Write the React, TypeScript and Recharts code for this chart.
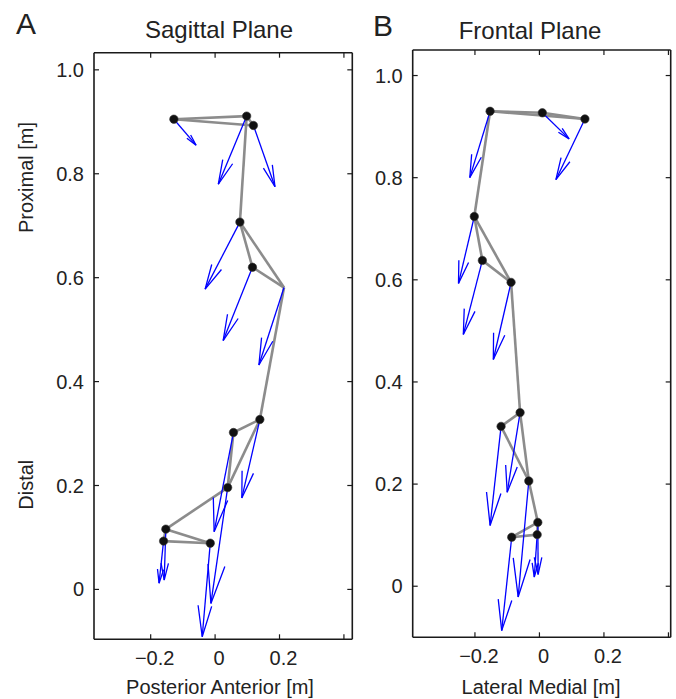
import React from 'react';
import { ScatterChart, Scatter, XAxis, YAxis, ReferenceLine } from 'recharts';

type Pt = { x: number; y: number };

const FONT = '"Liberation Sans", Arial, Helvetica, sans-serif';

// Panel A - sagittal plane: marker positions, force arrow tips, skeleton links
const sagittalJoints: Pt[] = [
  { x: -0.128, y: 0.905 },
  { x: 0.098, y: 0.911 },
  { x: 0.119, y: 0.893 },
  { x: 0.077, y: 0.707 },
  { x: 0.116, y: 0.62 },
  { x: 0.214, y: 0.581 },
  { x: 0.139, y: 0.327 },
  { x: 0.057, y: 0.302 },
  { x: 0.039, y: 0.196 },
  { x: -0.153, y: 0.116 },
  { x: -0.16, y: 0.093 },
  { x: -0.015, y: 0.089 },
];
const sagittalTips: Pt[] = [
  { x: -0.059, y: 0.855 },
  { x: 0.01, y: 0.78 },
  { x: 0.186, y: 0.775 },
  { x: -0.031, y: 0.578 },
  { x: 0.025, y: 0.479 },
  { x: 0.136, y: 0.432 },
  { x: 0.083, y: 0.176 },
  { x: -0.003, y: 0.111 },
  { x: -0.013, y: -0.027 },
  { x: -0.158, y: 0.018 },
  { x: -0.174, y: 0.012 },
  { x: -0.04, y: -0.091 },
];
const sagittalLinks: [number, number][] = [
  [0, 1], [0, 2], [1, 2], [1, 3], [3, 4], [3, 5], [4, 5], [5, 6],
  [6, 7], [6, 8], [7, 8], [8, 9], [9, 10], [9, 11], [10, 11],
];
const sagittalNoMarker = [5];

// Panel B - frontal plane
const frontalJoints: Pt[] = [
  { x: -0.153, y: 0.93 },
  { x: 0.009, y: 0.927 },
  { x: 0.141, y: 0.915 },
  { x: -0.202, y: 0.724 },
  { x: -0.177, y: 0.638 },
  { x: -0.088, y: 0.595 },
  { x: -0.06, y: 0.34 },
  { x: -0.119, y: 0.313 },
  { x: -0.033, y: 0.206 },
  { x: -0.005, y: 0.125 },
  { x: -0.007, y: 0.101 },
  { x: -0.086, y: 0.096 },
];
const frontalTips: Pt[] = [
  { x: -0.216, y: 0.8 },
  { x: 0.092, y: 0.876 },
  { x: 0.051, y: 0.796 },
  { x: -0.251, y: 0.593 },
  { x: -0.236, y: 0.493 },
  { x: -0.143, y: 0.444 },
  { x: -0.1, y: 0.184 },
  { x: -0.153, y: 0.119 },
  { x: -0.066, y: -0.021 },
  { x: -0.004, y: 0.023 },
  { x: -0.016, y: 0.018 },
  { x: -0.117, y: -0.087 },
];
const frontalLinks: [number, number][] = [
  [0, 1], [1, 2], [0, 2], [0, 3], [3, 4], [3, 5], [4, 5], [5, 6],
  [6, 7], [6, 8], [7, 8], [8, 9], [9, 10], [9, 11], [10, 11],
];
const frontalNoMarker: number[] = [];

const xTicks = [-0.2, 0, 0.2, 0.4];
const xTickLabels = ['\u22120.2', '0', '0.2', ''];
const yTicks = [0, 0.2, 0.4, 0.6, 0.8, 1.0];
const yTickLabels = ['0', '0.2', '0.4', '0.6', '0.8', '1.0'];

const sagittalXDomain: [number, number] = [-0.376, 0.426];
const sagittalYDomain: [number, number] = [-0.096, 1.033];
const frontalXDomain: [number, number] = [-0.393, 0.407];
const frontalYDomain: [number, number] = [-0.1, 1.05];

const AXIS = '#1a1a1a';
const TEXT = '#222';

const labelFor = (ticks: number[], labels: string[], v: number) => {
  const i = ticks.findIndex(t => Math.abs(t - v) < 1e-9);
  return i >= 0 ? labels[i] : '';
};

const ArrowShape = (props: any) => {
  const { x1, y1, x2, y2 } = props;
  const dx = x2 - x1;
  const dy = y2 - y1;
  const len = Math.hypot(dx, dy) || 1;
  const ux = dx / len;
  const uy = dy / len;
  const h = 0.33 * len;
  const w = 0.22 * h;
  const bx = x2 - ux * h;
  const by = y2 - uy * h;
  const pts = `${bx - uy * w},${by + ux * w} ${x2},${y2} ${bx + uy * w},${by - ux * w}`;
  return (
    <g>
      <line x1={x1} y1={y1} x2={x2} y2={y2} stroke="#0000ff" strokeWidth={1.3} />
      <polyline points={pts} fill="none" stroke="#0000ff" strokeWidth={1.3} />
    </g>
  );
};

const Dot = (props: any) => (
  <circle cx={props.cx} cy={props.cy} r={4.2} fill="#111" stroke="#333" strokeWidth={0.6} />
);

interface PanelProps {
  left: number;
  width: number;
  margin: { top: number; right: number; bottom: number; left: number };
  xDomain: [number, number];
  yDomain: [number, number];
  joints: Pt[];
  tips: Pt[];
  links: [number, number][];
  noMarker: number[];
}

const Panel: React.FC<PanelProps> = ({ left, width, margin, xDomain, yDomain, joints, tips, links, noMarker }) => {
  const markers = joints.filter((_, i) => !noMarker.includes(i));

  const leftTick = (p: any) => (
    <g>
      <line x1={p.x} y1={p.y} x2={p.x + 5} y2={p.y} stroke={AXIS} strokeWidth={1.2} />
      <text x={p.x - 10} y={p.y + 7} textAnchor="end" fontSize={20} fontFamily={FONT} fill={TEXT}>
        {labelFor(yTicks, yTickLabels, p.payload.value)}
      </text>
    </g>
  );
  const rightTick = (p: any) => (
    <line x1={p.x} y1={p.y} x2={p.x - 5} y2={p.y} stroke={AXIS} strokeWidth={1.2} />
  );
  const bottomTick = (p: any) => (
    <g>
      <line x1={p.x} y1={p.y} x2={p.x} y2={p.y - 5} stroke={AXIS} strokeWidth={1.2} />
      <text x={p.x + 4} y={p.y + 25.5} textAnchor="middle" fontSize={20} fontFamily={FONT} fill={TEXT}>
        {labelFor(xTicks, xTickLabels, p.payload.value)}
      </text>
    </g>
  );
  const topTick = (p: any) => (
    <line x1={p.x} y1={p.y} x2={p.x} y2={p.y + 5} stroke={AXIS} strokeWidth={1.2} />
  );

  const axisLine = { stroke: AXIS, strokeWidth: 1.6 };

  return (
    <div style={{ position: 'absolute', left, top: 0 }}>
      <ScatterChart width={width} height={699} margin={margin}>
        <XAxis type="number" dataKey="x" domain={xDomain} allowDataOverflow ticks={xTicks} interval={0}
          height={1} tickSize={0} tickMargin={0} tickLine={false} axisLine={axisLine} tick={bottomTick} />
        <XAxis xAxisId="top" orientation="top" type="number" dataKey="x" domain={xDomain} allowDataOverflow
          ticks={xTicks} interval={0} height={1} tickSize={0} tickMargin={0} tickLine={false} axisLine={axisLine} tick={topTick} />
        <YAxis type="number" dataKey="y" domain={yDomain} allowDataOverflow ticks={yTicks} interval={0}
          width={1} tickSize={0} tickMargin={0} tickLine={false} axisLine={axisLine} tick={leftTick} />
        <YAxis yAxisId="right" orientation="right" type="number" dataKey="y" domain={yDomain} allowDataOverflow
          ticks={yTicks} interval={0} width={1} tickSize={0} tickMargin={0} tickLine={false} axisLine={axisLine} tick={rightTick} />
        {links.map(([a, b], i) => (
          <ReferenceLine key={`l${i}`} ifOverflow="visible"
            segment={[{ x: joints[a].x, y: joints[a].y }, { x: joints[b].x, y: joints[b].y }]}
            stroke="#8c8c8c" strokeWidth={2.6} />
        ))}
        <Scatter data={markers} shape={Dot} isAnimationActive={false} />
        {joints.map((j, i) => (
          <ReferenceLine key={`a${i}`} ifOverflow="visible"
            segment={[{ x: j.x, y: j.y }, { x: tips[i].x, y: tips[i].y }]}
            shape={ArrowShape} />
        ))}
      </ScatterChart>
    </div>
  );
};

export default function App() {
  const textStyle = { fontFamily: FONT, fill: TEXT } as const;
  return (
    <div style={{ position: 'absolute', left: 0, top: 0, width: 676, height: 699, background: '#fff' }}>
      <Panel left={0} width={370} margin={{ top: 51.7, right: 16.7, bottom: 58.7, left: 93 }}
        xDomain={sagittalXDomain} yDomain={sagittalYDomain}
        joints={sagittalJoints} tips={sagittalTips} links={sagittalLinks} noMarker={sagittalNoMarker} />
      <Panel left={370} width={306} margin={{ top: 49, right: 4.3, bottom: 60.7, left: 41.7 }}
        xDomain={frontalXDomain} yDomain={frontalYDomain}
        joints={frontalJoints} tips={frontalTips} links={frontalLinks} noMarker={frontalNoMarker} />
      <svg width={676} height={699} style={{ position: 'absolute', left: 0, top: 0, pointerEvents: 'none' }}>
        <text x={16} y={34.3} fontSize={30} {...textStyle}>A</text>
        <text x={373} y={36} fontSize={30} {...textStyle}>B</text>
        <text x={219} y={38.3} fontSize={24} textAnchor="middle" {...textStyle}>Sagittal Plane</text>
        <text x={530} y={39} fontSize={24} textAnchor="middle" {...textStyle}>Frontal Plane</text>
        <text x={220} y={694} fontSize={20} textAnchor="middle" {...textStyle}>Posterior Anterior [m]</text>
        <text x={541} y={694} fontSize={20} textAnchor="middle" {...textStyle}>Lateral Medial [m]</text>
        <text x={33.3} y={177.5} fontSize={20} textAnchor="middle" transform="rotate(-90 33.3 177.5)" {...textStyle}>Proximal [m]</text>
        <text x={33.3} y={484.7} fontSize={20} textAnchor="middle" transform="rotate(-90 33.3 484.7)" {...textStyle}>Distal</text>
      </svg>
    </div>
  );
}
